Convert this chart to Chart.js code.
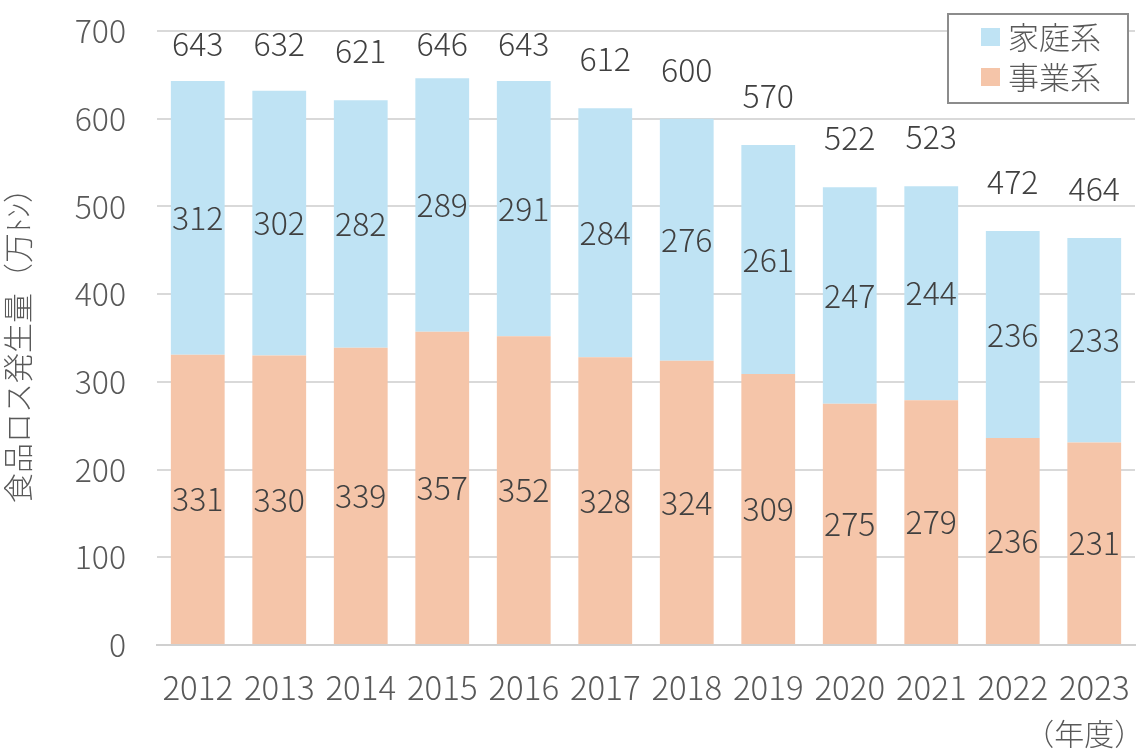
<!DOCTYPE html>
<html lang="ja">
<head>
<meta charset="utf-8">
<script src="https://cdn.jsdelivr.net/npm/chart.js@4"></script>
<style>
  html, body { margin: 0; padding: 0; background: #fff; }
  #wrap { width: 1140px; height: 749px; }
</style>
</head>
<body>
<div id="wrap"><canvas id="lossChart" width="1140" height="749"></canvas></div>
<script>
// ================== DATA ===================
const years = ["2012", "2013", "2014", "2015", "2016", "2017", "2018", "2019", "2020", "2021", "2022", "2023"];
const business = [331, 330, 339, 357, 352, 328, 324, 309, 275, 279, 236, 231];
const household = [312, 302, 282, 289, 291, 284, 276, 261, 247, 244, 236, 233];
const totals = [643, 632, 621, 646, 643, 612, 600, 570, 522, 523, 472, 464];
const yTicks = [0, 100, 200, 300, 400, 500, 600, 700];

const FONT = '"Noto Sans CJK JP", "Noto Sans", sans-serif';
const BLUE = "#bfe3f4";
const ORANGE = "#f5c5a9";
const TEXT = "#595959";

// ================== LABELS + LEGEND ===================
const labelPlugin = {
  id: "labelPlugin",
  afterDatasetsDraw(chart) {
    const ctx = chart.ctx;
    ctx.save();
    ctx.font = "300 32px " + FONT;
    ctx.fillStyle = "#404040";
    ctx.textAlign = "center";
    ctx.textBaseline = "middle";

    chart.data.datasets.forEach((ds, di) => {
      const meta = chart.getDatasetMeta(di);
      meta.data.forEach((bar, i) => {
        const mid = (bar.y + bar.base) / 2;
        ctx.fillText(String(ds.data[i]), bar.x, mid);
      });
    });

    // totals above the stack
    const topMeta = chart.getDatasetMeta(1);
    const yScale = chart.scales.y;
    topMeta.data.forEach((bar, i) => {
      let y = yScale.getPixelForValue(totals[i]) - 49;
      if (y < 44) y = 44;
      ctx.fillText(String(totals[i]), bar.x, y);
    });

    // unit under last category
    ctx.fillStyle = TEXT;
    ctx.font = "300 30px " + FONT;
    const lastX = chart.scales.x.getPixelForValue(years.length - 1);
    ctx.fillText("（年度）", lastX - 10, 734);
    ctx.restore();
  },
  afterDraw(chart) {
    const ctx = chart.ctx;
    ctx.save();
    // legend box in top right
    ctx.fillStyle = "#fff";
    ctx.fillRect(948, 14, 180, 89);
    ctx.strokeStyle = "#8c8c8c";
    ctx.lineWidth = 2;
    ctx.strokeRect(948, 14, 180, 89);

    const items = [
      { label: chart.data.datasets[1].label, color: chart.data.datasets[1].backgroundColor, y: 37 },
      { label: chart.data.datasets[0].label, color: chart.data.datasets[0].backgroundColor, y: 77 }
    ];
    ctx.font = "300 31px " + FONT;
    ctx.textAlign = "left";
    ctx.textBaseline = "middle";
    items.forEach(it => {
      ctx.fillStyle = it.color;
      ctx.fillRect(981, it.y - 9, 19, 18);
      ctx.fillStyle = TEXT;
      ctx.fillText(it.label, 1008, it.y);
    });
    ctx.restore();
  }
};

// ================== CHART ===================
new Chart(document.getElementById("lossChart"), {
  type: "bar",
  data: {
    labels: years,
    datasets: [
      { label: "事業系", data: business, backgroundColor: ORANGE, barPercentage: 0.66, categoryPercentage: 1 },
      { label: "家庭系", data: household, backgroundColor: BLUE, barPercentage: 0.66, categoryPercentage: 1 }
    ]
  },
  options: {
    responsive: false,
    animation: false,
    layout: { padding: { top: 31, right: 5, left: 0, bottom: 0 } },
    plugins: {
      legend: { display: false },
      tooltip: { enabled: false }
    },
    scales: {
      x: {
        stacked: true,
        grid: { display: false },
        border: { color: "#d0d0d0", width: 2 },
        ticks: { color: TEXT, font: { family: FONT, size: 33, weight: "300" }, padding: 15, maxRotation: 0, autoSkip: false },
        afterFit: s => {
          s.height = 104;
          s.paddingLeft = 0;
          s.paddingRight = 0;
        }
      },
      y: {
        stacked: true,
        min: 0,
        max: 700,
        afterBuildTicks: s => { s.ticks = yTicks.map(v => ({ value: v })); },
        grid: { color: "#d9d9d9", lineWidth: 2, drawTicks: false },
        border: { display: false },
        ticks: { color: TEXT, font: { family: FONT, size: 32, weight: "300" }, padding: 31 },
        title: {
          display: true,
          text: "食品ロス発生量（万ﾄﾝ）",
          color: TEXT,
          font: { family: FONT, size: 30, weight: "300" },
          padding: { top: 0, bottom: 0 }
        },
        afterFit: s => {
          s.width = 157;
          s.paddingTop = 0;
          s.paddingBottom = 0;
        }
      }
    }
  },
  plugins: [labelPlugin]
});
</script>
</body>
</html>
